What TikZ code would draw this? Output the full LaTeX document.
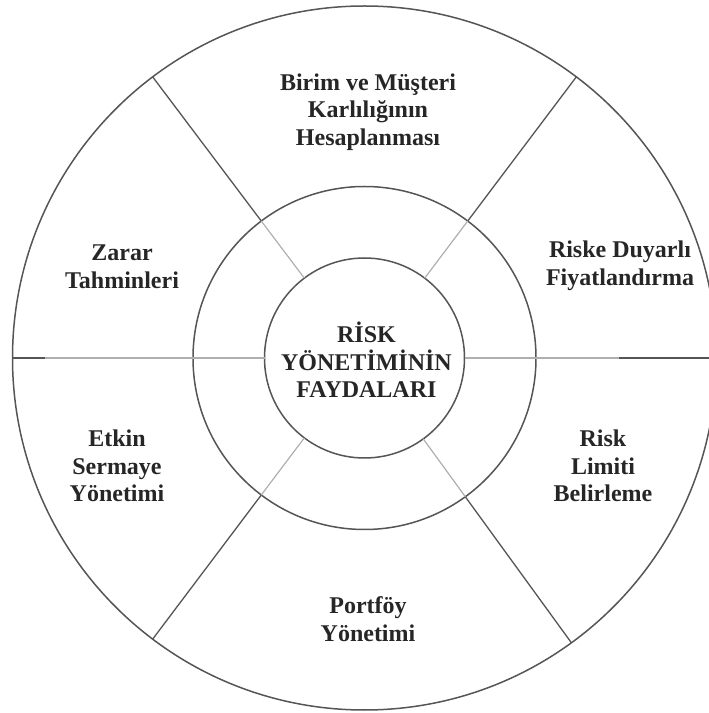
\documentclass[tikz,border=0pt]{standalone}
\usepackage{fontspec}
\setmainfont{Liberation Serif}
\definecolor{ringcol}{RGB}{85,85,85}
\definecolor{lightcol}{RGB}{175,175,175}
\begin{document}
\begin{tikzpicture}[x=1pt,y=1pt,
  ring/.style={circle, draw=ringcol, line width=1.5pt, outer sep=0pt, inner sep=0pt},
  spoke/.style={draw=ringcol, line width=1.3pt},
  lightspoke/.style={draw=lightcol, line width=1.2pt},
  lbl/.style={align=center, text=black!85, font=\fontsize{24}{27.6}\selectfont\bfseries}]
\useasboundingbox (0,0) rectangle (709,713);
\clip (0,0) rectangle (709,713);
\coordinate (c) at (364.5,355);
\node[ring, minimum size=704pt] (outer) at (c) {};
\node[ring, minimum size=343pt] (middle) at (c) {};
\node[ring, minimum size=200pt] (inner) at (c) {};
\foreach \a in {53.5,127,233.5,306.5} {
  \draw[spoke] (outer.\a) -- (middle.\a);
  \draw[lightspoke] (middle.\a) -- (inner.\a);
}
\draw[lightspoke] (inner.180) -- (outer.180);
\draw[lightspoke] (inner.0) -- (outer.0);
\draw[spoke] (outer.180) -- ++(32,0);
\draw[spoke] (outer.0) -- ++(-98,0);
\node[lbl] (center) at (366.5,353) {RİSK\\YÖNETİMİNİN\\FAYDALARI};
\node[lbl] (top) at (368,601) {Birim ve Müşteri\\Karlılığının\\Hesaplanması};
\node[lbl] (ul) at (122,446) {Zarar\\Tahminleri};
\node[lbl] (ur) at (620,447) {Riske Duyarlı\\Fiyatlandırma};
\node[lbl] (ll) at (117,247) {Etkin\\Sermaye\\Yönetimi};
\node[lbl] (lr) at (603,247) {Risk\\Limiti\\Belirleme};
\node[lbl] (bot) at (368,94) {Portföy\\Yönetimi};
\end{tikzpicture}
\end{document}
